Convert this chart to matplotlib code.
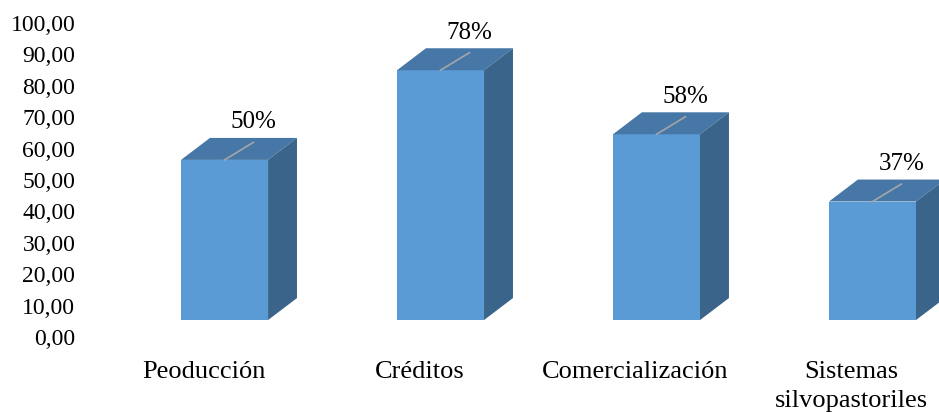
import matplotlib

matplotlib.use("Agg")
import matplotlib.pyplot as plt
from matplotlib.patches import Polygon
from matplotlib.ticker import FuncFormatter

categories = ["Peoducción", "Créditos", "Comercialización", "Sistemas\nsilvopastoriles"]
values = [50, 78, 58, 37]
value_labels = ["50%", "78%", "58%", "37%"]
yticks = [0, 10, 20, 30, 40, 50, 60, 70, 80, 90, 100]

FRONT = "#5b9bd5"
TOP = "#4677a6"
SIDE = "#3a6489"

plt.rcParams["font.family"] = ["Liberation Serif", "DejaVu Serif"]

fig = plt.figure(figsize=(9.39, 4.12), dpi=100)
ax = fig.add_axes([85 / 939, 75 / 412, 1 - 85 / 939, 314 / 412])

base = 5.4      # front face floor, in axis units
persp = 1.02    # front plane sits slightly nearer than the back wall
width = 0.403   # front face width, category units
dx = 0.134      # depth offset in x
dy = 7.0        # depth offset in y

x = list(range(len(values)))
heights = [v * persp for v in values]
ax.bar(x, heights, width=width, bottom=base, color=FRONT, edgecolor="none", zorder=2)

for i, h in zip(x, heights):
    left, right = i - width / 2, i + width / 2
    top = base + h
    ax.add_patch(Polygon([(left, top), (right, top), (right + dx, top + dy), (left + dx, top + dy)],
                         closed=True, facecolor=TOP, edgecolor="none", zorder=2))
    ax.add_patch(Polygon([(right, base), (right + dx, base + dy), (right + dx, top + dy), (right, top)],
                         closed=True, facecolor=SIDE, edgecolor="none", zorder=2))
    ax.plot([i, i + dx], [top, top + dy * 0.8], color="#a6a6a6", lw=1.2, zorder=3)

for i, h, lab in zip(x, heights, value_labels):
    ax.text(i + dx, base + h + dy + 5.0, lab, ha="center", va="center", fontsize=18, zorder=4)

ax.set_xlim(-0.646, 3.308)
ax.set_ylim(0, 100)
ax.set_yticks(yticks)
ax.yaxis.set_major_formatter(FuncFormatter(lambda val, pos: f"{val:.2f}".replace(".", ",")))
ax.tick_params(axis="y", length=0, pad=7, labelsize=17)

ax.set_xticks([i - 0.097 for i in x])
ax.set_xticklabels(categories, fontsize=19, linespacing=1.45)
ax.tick_params(axis="x", length=0, pad=17)

for s in ax.spines.values():
    s.set_visible(False)
ax.patch.set_alpha(0)

fig.savefig("out.png", dpi=100)
